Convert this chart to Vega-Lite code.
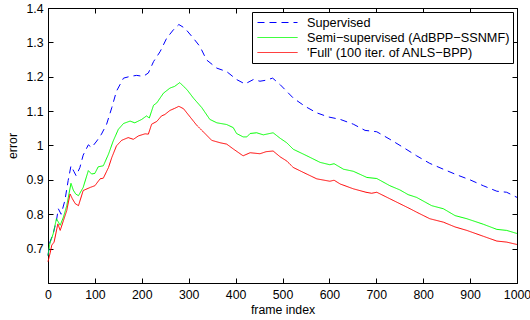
{
  "$schema": "https://vega.github.io/schema/vega-lite/v6.json",
  "width": 469,
  "height": 275,
  "autosize": {"type": "none"},
  "padding": {"left": 48, "top": 8, "right": 13, "bottom": 37},
  "background": "white",
  "config": {
    "font": "Liberation Sans",
    "view": {"stroke": "black", "strokeWidth": 1},
    "axis": {
      "grid": false,
      "domainColor": "black",
      "tickColor": "black",
      "labelColor": "black",
      "titleColor": "black",
      "labelFont": "Liberation Sans",
      "titleFont": "Liberation Sans",
      "labelFontSize": 12.3,
      "titleFontSize": 12.3,
      "titleFontWeight": "normal",
      "tickSize": -5,
      "labelPadding": 10,
      "labelFlush": false,
      "labelOverlap": false
    }
  },
  "data": {
    "values": [
      {"method": "Supervised", "frame": 0, "error": 0.68},
      {"method": "Supervised", "frame": 4, "error": 0.719},
      {"method": "Supervised", "frame": 11, "error": 0.743},
      {"method": "Supervised", "frame": 18, "error": 0.782},
      {"method": "Supervised", "frame": 22, "error": 0.816},
      {"method": "Supervised", "frame": 28, "error": 0.8},
      {"method": "Supervised", "frame": 36, "error": 0.84},
      {"method": "Supervised", "frame": 43, "error": 0.898},
      {"method": "Supervised", "frame": 49, "error": 0.941},
      {"method": "Supervised", "frame": 55, "error": 0.925},
      {"method": "Supervised", "frame": 60, "error": 0.912},
      {"method": "Supervised", "frame": 68, "error": 0.936},
      {"method": "Supervised", "frame": 75, "error": 0.972},
      {"method": "Supervised", "frame": 86, "error": 1.002},
      {"method": "Supervised", "frame": 93, "error": 0.994},
      {"method": "Supervised", "frame": 104, "error": 1.013},
      {"method": "Supervised", "frame": 114, "error": 1.033},
      {"method": "Supervised", "frame": 125, "error": 1.062},
      {"method": "Supervised", "frame": 136, "error": 1.11},
      {"method": "Supervised", "frame": 146, "error": 1.158},
      {"method": "Supervised", "frame": 161, "error": 1.196},
      {"method": "Supervised", "frame": 175, "error": 1.201},
      {"method": "Supervised", "frame": 189, "error": 1.204},
      {"method": "Supervised", "frame": 203, "error": 1.201},
      {"method": "Supervised", "frame": 214, "error": 1.211},
      {"method": "Supervised", "frame": 225, "error": 1.244},
      {"method": "Supervised", "frame": 239, "error": 1.273},
      {"method": "Supervised", "frame": 253, "error": 1.312},
      {"method": "Supervised", "frame": 267, "error": 1.336},
      {"method": "Supervised", "frame": 279, "error": 1.352},
      {"method": "Supervised", "frame": 292, "error": 1.341},
      {"method": "Supervised", "frame": 310, "error": 1.312},
      {"method": "Supervised", "frame": 324, "error": 1.288},
      {"method": "Supervised", "frame": 338, "error": 1.249},
      {"method": "Supervised", "frame": 360, "error": 1.225},
      {"method": "Supervised", "frame": 381, "error": 1.215},
      {"method": "Supervised", "frame": 402, "error": 1.192},
      {"method": "Supervised", "frame": 420, "error": 1.179},
      {"method": "Supervised", "frame": 438, "error": 1.192},
      {"method": "Supervised", "frame": 452, "error": 1.187},
      {"method": "Supervised", "frame": 465, "error": 1.19},
      {"method": "Supervised", "frame": 479, "error": 1.196},
      {"method": "Supervised", "frame": 495, "error": 1.177},
      {"method": "Supervised", "frame": 523, "error": 1.138},
      {"method": "Supervised", "frame": 548, "error": 1.114},
      {"method": "Supervised", "frame": 573, "error": 1.095},
      {"method": "Supervised", "frame": 598, "error": 1.083},
      {"method": "Supervised", "frame": 623, "error": 1.076},
      {"method": "Supervised", "frame": 651, "error": 1.062},
      {"method": "Supervised", "frame": 676, "error": 1.044},
      {"method": "Supervised", "frame": 701, "error": 1.04},
      {"method": "Supervised", "frame": 729, "error": 1.018},
      {"method": "Supervised", "frame": 758, "error": 0.994},
      {"method": "Supervised", "frame": 786, "error": 0.97},
      {"method": "Supervised", "frame": 814, "error": 0.948},
      {"method": "Supervised", "frame": 843, "error": 0.931},
      {"method": "Supervised", "frame": 871, "error": 0.915},
      {"method": "Supervised", "frame": 900, "error": 0.9},
      {"method": "Supervised", "frame": 928, "error": 0.883},
      {"method": "Supervised", "frame": 957, "error": 0.867},
      {"method": "Supervised", "frame": 978, "error": 0.864},
      {"method": "Supervised", "frame": 1000, "error": 0.849},

      {"method": "Semi−supervised (AdBPP−SSNMF)", "frame": 0, "error": 0.68},
      {"method": "Semi−supervised (AdBPP−SSNMF)", "frame": 4, "error": 0.715},
      {"method": "Semi−supervised (AdBPP−SSNMF)", "frame": 11, "error": 0.743},
      {"method": "Semi−supervised (AdBPP−SSNMF)", "frame": 18, "error": 0.787},
      {"method": "Semi−supervised (AdBPP−SSNMF)", "frame": 26, "error": 0.768},
      {"method": "Semi−supervised (AdBPP−SSNMF)", "frame": 33, "error": 0.792},
      {"method": "Semi−supervised (AdBPP−SSNMF)", "frame": 40, "error": 0.825},
      {"method": "Semi−supervised (AdBPP−SSNMF)", "frame": 49, "error": 0.89},
      {"method": "Semi−supervised (AdBPP−SSNMF)", "frame": 54, "error": 0.87},
      {"method": "Semi−supervised (AdBPP−SSNMF)", "frame": 59, "error": 0.859},
      {"method": "Semi−supervised (AdBPP−SSNMF)", "frame": 65, "error": 0.854},
      {"method": "Semi−supervised (AdBPP−SSNMF)", "frame": 75, "error": 0.878},
      {"method": "Semi−supervised (AdBPP−SSNMF)", "frame": 86, "error": 0.927},
      {"method": "Semi−supervised (AdBPP−SSNMF)", "frame": 93, "error": 0.917},
      {"method": "Semi−supervised (AdBPP−SSNMF)", "frame": 100, "error": 0.919},
      {"method": "Semi−supervised (AdBPP−SSNMF)", "frame": 107, "error": 0.938},
      {"method": "Semi−supervised (AdBPP−SSNMF)", "frame": 118, "error": 0.941},
      {"method": "Semi−supervised (AdBPP−SSNMF)", "frame": 129, "error": 0.975},
      {"method": "Semi−supervised (AdBPP−SSNMF)", "frame": 139, "error": 1.013},
      {"method": "Semi−supervised (AdBPP−SSNMF)", "frame": 150, "error": 1.047},
      {"method": "Semi−supervised (AdBPP−SSNMF)", "frame": 161, "error": 1.064},
      {"method": "Semi−supervised (AdBPP−SSNMF)", "frame": 175, "error": 1.071},
      {"method": "Semi−supervised (AdBPP−SSNMF)", "frame": 185, "error": 1.066},
      {"method": "Semi−supervised (AdBPP−SSNMF)", "frame": 200, "error": 1.076},
      {"method": "Semi−supervised (AdBPP−SSNMF)", "frame": 210, "error": 1.086},
      {"method": "Semi−supervised (AdBPP−SSNMF)", "frame": 216, "error": 1.08},
      {"method": "Semi−supervised (AdBPP−SSNMF)", "frame": 225, "error": 1.117},
      {"method": "Semi−supervised (AdBPP−SSNMF)", "frame": 232, "error": 1.124},
      {"method": "Semi−supervised (AdBPP−SSNMF)", "frame": 239, "error": 1.138},
      {"method": "Semi−supervised (AdBPP−SSNMF)", "frame": 246, "error": 1.152},
      {"method": "Semi−supervised (AdBPP−SSNMF)", "frame": 260, "error": 1.167},
      {"method": "Semi−supervised (AdBPP−SSNMF)", "frame": 270, "error": 1.172},
      {"method": "Semi−supervised (AdBPP−SSNMF)", "frame": 281, "error": 1.183},
      {"method": "Semi−supervised (AdBPP−SSNMF)", "frame": 289, "error": 1.172},
      {"method": "Semi−supervised (AdBPP−SSNMF)", "frame": 296, "error": 1.163},
      {"method": "Semi−supervised (AdBPP−SSNMF)", "frame": 310, "error": 1.138},
      {"method": "Semi−supervised (AdBPP−SSNMF)", "frame": 328, "error": 1.11},
      {"method": "Semi−supervised (AdBPP−SSNMF)", "frame": 345, "error": 1.076},
      {"method": "Semi−supervised (AdBPP−SSNMF)", "frame": 360, "error": 1.066},
      {"method": "Semi−supervised (AdBPP−SSNMF)", "frame": 381, "error": 1.061},
      {"method": "Semi−supervised (AdBPP−SSNMF)", "frame": 395, "error": 1.052},
      {"method": "Semi−supervised (AdBPP−SSNMF)", "frame": 402, "error": 1.035},
      {"method": "Semi−supervised (AdBPP−SSNMF)", "frame": 416, "error": 1.025},
      {"method": "Semi−supervised (AdBPP−SSNMF)", "frame": 424, "error": 1.025},
      {"method": "Semi−supervised (AdBPP−SSNMF)", "frame": 431, "error": 1.035},
      {"method": "Semi−supervised (AdBPP−SSNMF)", "frame": 445, "error": 1.037},
      {"method": "Semi−supervised (AdBPP−SSNMF)", "frame": 459, "error": 1.031},
      {"method": "Semi−supervised (AdBPP−SSNMF)", "frame": 480, "error": 1.037},
      {"method": "Semi−supervised (AdBPP−SSNMF)", "frame": 495, "error": 1.021},
      {"method": "Semi−supervised (AdBPP−SSNMF)", "frame": 509, "error": 1.008},
      {"method": "Semi−supervised (AdBPP−SSNMF)", "frame": 523, "error": 0.989},
      {"method": "Semi−supervised (AdBPP−SSNMF)", "frame": 552, "error": 0.97},
      {"method": "Semi−supervised (AdBPP−SSNMF)", "frame": 580, "error": 0.951},
      {"method": "Semi−supervised (AdBPP−SSNMF)", "frame": 601, "error": 0.944},
      {"method": "Semi−supervised (AdBPP−SSNMF)", "frame": 610, "error": 0.947},
      {"method": "Semi−supervised (AdBPP−SSNMF)", "frame": 630, "error": 0.931},
      {"method": "Semi−supervised (AdBPP−SSNMF)", "frame": 651, "error": 0.925},
      {"method": "Semi−supervised (AdBPP−SSNMF)", "frame": 680, "error": 0.907},
      {"method": "Semi−supervised (AdBPP−SSNMF)", "frame": 701, "error": 0.904},
      {"method": "Semi−supervised (AdBPP−SSNMF)", "frame": 729, "error": 0.883},
      {"method": "Semi−supervised (AdBPP−SSNMF)", "frame": 750, "error": 0.871},
      {"method": "Semi−supervised (AdBPP−SSNMF)", "frame": 768, "error": 0.857},
      {"method": "Semi−supervised (AdBPP−SSNMF)", "frame": 786, "error": 0.849},
      {"method": "Semi−supervised (AdBPP−SSNMF)", "frame": 818, "error": 0.825},
      {"method": "Semi−supervised (AdBPP−SSNMF)", "frame": 843, "error": 0.816},
      {"method": "Semi−supervised (AdBPP−SSNMF)", "frame": 868, "error": 0.796},
      {"method": "Semi−supervised (AdBPP−SSNMF)", "frame": 893, "error": 0.787},
      {"method": "Semi−supervised (AdBPP−SSNMF)", "frame": 928, "error": 0.771},
      {"method": "Semi−supervised (AdBPP−SSNMF)", "frame": 957, "error": 0.756},
      {"method": "Semi−supervised (AdBPP−SSNMF)", "frame": 978, "error": 0.753},
      {"method": "Semi−supervised (AdBPP−SSNMF)", "frame": 1000, "error": 0.744},

      {"method": "'Full' (100 iter. of ANLS−BPP)", "frame": 0, "error": 0.662},
      {"method": "'Full' (100 iter. of ANLS−BPP)", "frame": 5, "error": 0.69},
      {"method": "'Full' (100 iter. of ANLS−BPP)", "frame": 8, "error": 0.71},
      {"method": "'Full' (100 iter. of ANLS−BPP)", "frame": 13, "error": 0.719},
      {"method": "'Full' (100 iter. of ANLS−BPP)", "frame": 21, "error": 0.772},
      {"method": "'Full' (100 iter. of ANLS−BPP)", "frame": 26, "error": 0.753},
      {"method": "'Full' (100 iter. of ANLS−BPP)", "frame": 33, "error": 0.782},
      {"method": "'Full' (100 iter. of ANLS−BPP)", "frame": 40, "error": 0.811},
      {"method": "'Full' (100 iter. of ANLS−BPP)", "frame": 47, "error": 0.859},
      {"method": "'Full' (100 iter. of ANLS−BPP)", "frame": 52, "error": 0.845},
      {"method": "'Full' (100 iter. of ANLS−BPP)", "frame": 58, "error": 0.831},
      {"method": "'Full' (100 iter. of ANLS−BPP)", "frame": 65, "error": 0.825},
      {"method": "'Full' (100 iter. of ANLS−BPP)", "frame": 75, "error": 0.869},
      {"method": "'Full' (100 iter. of ANLS−BPP)", "frame": 90, "error": 0.878},
      {"method": "'Full' (100 iter. of ANLS−BPP)", "frame": 100, "error": 0.883},
      {"method": "'Full' (100 iter. of ANLS−BPP)", "frame": 111, "error": 0.903},
      {"method": "'Full' (100 iter. of ANLS−BPP)", "frame": 118, "error": 0.905},
      {"method": "'Full' (100 iter. of ANLS−BPP)", "frame": 129, "error": 0.936},
      {"method": "'Full' (100 iter. of ANLS−BPP)", "frame": 136, "error": 0.965},
      {"method": "'Full' (100 iter. of ANLS−BPP)", "frame": 146, "error": 0.999},
      {"method": "'Full' (100 iter. of ANLS−BPP)", "frame": 157, "error": 1.015},
      {"method": "'Full' (100 iter. of ANLS−BPP)", "frame": 171, "error": 1.023},
      {"method": "'Full' (100 iter. of ANLS−BPP)", "frame": 182, "error": 1.018},
      {"method": "'Full' (100 iter. of ANLS−BPP)", "frame": 193, "error": 1.028},
      {"method": "'Full' (100 iter. of ANLS−BPP)", "frame": 207, "error": 1.034},
      {"method": "'Full' (100 iter. of ANLS−BPP)", "frame": 214, "error": 1.033},
      {"method": "'Full' (100 iter. of ANLS−BPP)", "frame": 221, "error": 1.062},
      {"method": "'Full' (100 iter. of ANLS−BPP)", "frame": 232, "error": 1.07},
      {"method": "'Full' (100 iter. of ANLS−BPP)", "frame": 242, "error": 1.086},
      {"method": "'Full' (100 iter. of ANLS−BPP)", "frame": 249, "error": 1.09},
      {"method": "'Full' (100 iter. of ANLS−BPP)", "frame": 260, "error": 1.102},
      {"method": "'Full' (100 iter. of ANLS−BPP)", "frame": 270, "error": 1.108},
      {"method": "'Full' (100 iter. of ANLS−BPP)", "frame": 279, "error": 1.114},
      {"method": "'Full' (100 iter. of ANLS−BPP)", "frame": 289, "error": 1.107},
      {"method": "'Full' (100 iter. of ANLS−BPP)", "frame": 296, "error": 1.095},
      {"method": "'Full' (100 iter. of ANLS−BPP)", "frame": 303, "error": 1.083},
      {"method": "'Full' (100 iter. of ANLS−BPP)", "frame": 310, "error": 1.071},
      {"method": "'Full' (100 iter. of ANLS−BPP)", "frame": 317, "error": 1.059},
      {"method": "'Full' (100 iter. of ANLS−BPP)", "frame": 331, "error": 1.04},
      {"method": "'Full' (100 iter. of ANLS−BPP)", "frame": 349, "error": 1.015},
      {"method": "'Full' (100 iter. of ANLS−BPP)", "frame": 367, "error": 1.008},
      {"method": "'Full' (100 iter. of ANLS−BPP)", "frame": 381, "error": 1.004},
      {"method": "'Full' (100 iter. of ANLS−BPP)", "frame": 395, "error": 0.99},
      {"method": "'Full' (100 iter. of ANLS−BPP)", "frame": 416, "error": 0.97},
      {"method": "'Full' (100 iter. of ANLS−BPP)", "frame": 431, "error": 0.979},
      {"method": "'Full' (100 iter. of ANLS−BPP)", "frame": 452, "error": 0.976},
      {"method": "'Full' (100 iter. of ANLS−BPP)", "frame": 465, "error": 0.982},
      {"method": "'Full' (100 iter. of ANLS−BPP)", "frame": 480, "error": 0.984},
      {"method": "'Full' (100 iter. of ANLS−BPP)", "frame": 495, "error": 0.967},
      {"method": "'Full' (100 iter. of ANLS−BPP)", "frame": 509, "error": 0.955},
      {"method": "'Full' (100 iter. of ANLS−BPP)", "frame": 523, "error": 0.936},
      {"method": "'Full' (100 iter. of ANLS−BPP)", "frame": 544, "error": 0.922},
      {"method": "'Full' (100 iter. of ANLS−BPP)", "frame": 573, "error": 0.903},
      {"method": "'Full' (100 iter. of ANLS−BPP)", "frame": 601, "error": 0.896},
      {"method": "'Full' (100 iter. of ANLS−BPP)", "frame": 610, "error": 0.899},
      {"method": "'Full' (100 iter. of ANLS−BPP)", "frame": 623, "error": 0.888},
      {"method": "'Full' (100 iter. of ANLS−BPP)", "frame": 651, "error": 0.874},
      {"method": "'Full' (100 iter. of ANLS−BPP)", "frame": 678, "error": 0.864},
      {"method": "'Full' (100 iter. of ANLS−BPP)", "frame": 690, "error": 0.861},
      {"method": "'Full' (100 iter. of ANLS−BPP)", "frame": 701, "error": 0.864},
      {"method": "'Full' (100 iter. of ANLS−BPP)", "frame": 729, "error": 0.845},
      {"method": "'Full' (100 iter. of ANLS−BPP)", "frame": 772, "error": 0.816},
      {"method": "'Full' (100 iter. of ANLS−BPP)", "frame": 786, "error": 0.806},
      {"method": "'Full' (100 iter. of ANLS−BPP)", "frame": 814, "error": 0.787},
      {"method": "'Full' (100 iter. of ANLS−BPP)", "frame": 843, "error": 0.777},
      {"method": "'Full' (100 iter. of ANLS−BPP)", "frame": 868, "error": 0.763},
      {"method": "'Full' (100 iter. of ANLS−BPP)", "frame": 893, "error": 0.753},
      {"method": "'Full' (100 iter. of ANLS−BPP)", "frame": 928, "error": 0.736},
      {"method": "'Full' (100 iter. of ANLS−BPP)", "frame": 957, "error": 0.722},
      {"method": "'Full' (100 iter. of ANLS−BPP)", "frame": 978, "error": 0.719},
      {"method": "'Full' (100 iter. of ANLS−BPP)", "frame": 1000, "error": 0.712}
    ]
  },
  "layer": [
    {
      "mark": {"type": "line", "strokeWidth": 1, "interpolate": "linear"},
      "encoding": {
        "x": {
          "field": "frame", "type": "quantitative",
          "scale": {"domain": [0, 1000], "nice": false, "zero": false},
          "axis": {"orient": "bottom", "title": "frame index", "values": [0,100,200,300,400,500,600,700,800,900,1000], "format": "d", "titlePadding": 3}
        },
        "y": {
          "field": "error", "type": "quantitative",
          "scale": {"domain": [0.6, 1.4], "nice": false, "zero": false},
          "axis": {"orient": "left", "title": "error", "values": [0.7,0.8,0.9,1,1.1,1.2,1.3,1.4], "format": "~g", "titlePadding": 6}
        },
        "color": {
          "field": "method", "type": "nominal",
          "scale": {"domain": ["Supervised", "Semi−supervised (AdBPP−SSNMF)", "'Full' (100 iter. of ANLS−BPP)"], "range": ["#0000ff", "#00ff00", "#ff0000"]},
          "legend": {
            "orient": "none", "legendX": 204, "legendY": 4, "title": null,
            "symbolType": "stroke", "symbolSize": 1600, "symbolStrokeWidth": 1,
            "clipHeight": 15, "rowPadding": 0, "padding": 3,
            "symbolOffset": 2, "labelOffset": 9, "labelLimit": 400,
            "labelFont": "Liberation Sans", "labelFontSize": 12.7, "labelColor": "black",
            "fillColor": "white", "strokeColor": "black"
          }
        },
        "strokeDash": {
          "field": "method", "type": "nominal",
          "scale": {"domain": ["Supervised", "Semi−supervised (AdBPP−SSNMF)", "'Full' (100 iter. of ANLS−BPP)"], "range": [[7, 5], [1, 0], [1, 0]]},
          "legend": {
            "orient": "none", "legendX": 204, "legendY": 4, "title": null,
            "symbolType": "stroke", "symbolSize": 1600, "symbolStrokeWidth": 1,
            "clipHeight": 15, "rowPadding": 0, "padding": 3,
            "symbolOffset": 2, "labelOffset": 9, "labelLimit": 400,
            "labelFont": "Liberation Sans", "labelFontSize": 12.7, "labelColor": "black",
            "fillColor": "white", "strokeColor": "black"
          }
        }
      }
    },
    {
      "mark": {"type": "point", "opacity": 0},
      "encoding": {
        "x": {
          "field": "frame", "type": "quantitative",
          "axis": {"orient": "top", "labels": false, "title": null, "values": [0,100,200,300,400,500,600,700,800,900,1000]}
        },
        "y": {
          "field": "error", "type": "quantitative",
          "axis": {"orient": "right", "labels": false, "title": null, "values": [0.7,0.8,0.9,1,1.1,1.2,1.3,1.4]}
        }
      }
    }
  ],
  "resolve": {"axis": {"x": "independent", "y": "independent"}}
}
